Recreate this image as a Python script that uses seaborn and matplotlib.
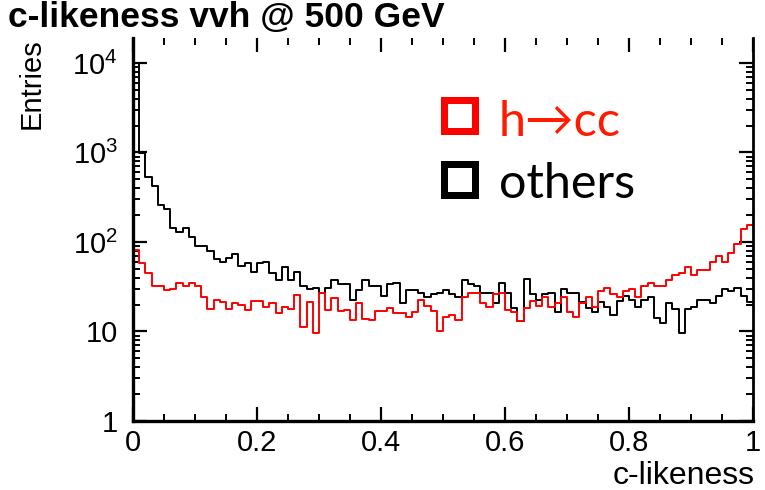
import numpy as np
import pandas as pd
import matplotlib
matplotlib.use("Agg")
import matplotlib.pyplot as plt
from matplotlib.patches import Rectangle
from matplotlib.ticker import MultipleLocator, LogLocator, NullFormatter, FixedLocator
import seaborn as sns

# ---------------- data (100 bins on 0..1) ----------------
n_bins = 100
x_min, x_max = 0.0, 1.0

others = [10000, 980, 537, 426, 259, 232, 142, 128, 142, 115,
          90, 90, 79, 65, 59, 67, 73, 54, 58, 46,
          58, 59, 45, 38, 53, 38, 46, 32, 30, 31,
          27, 31, 38, 34, 34, 22.5, 29, 38, 32, 32,
          25, 34, 35, 21, 29, 29, 27, 24, 26, 27,
          29, 26, 24, 38, 34, 32, 27, 27, 21, 34.5,
          27, 18.5, 13, 39, 26, 22.5, 26, 27, 16.6, 30,
          27, 27, 21.5, 18.5, 16.6, 21.5, 19, 15.3, 22, 25,
          22.5, 19, 22.5, 24, 14, 12.5, 20.6, 17.7, 9.5, 17.7,
          18.6, 22.5, 22.5, 21, 25, 29.6, 28.6, 30.4, 25, 21.5]

hcc = [82, 58, 45, 32, 32, 29, 30, 34.5, 32, 34.5,
       32, 24, 17.7, 22.5, 21.5, 17.7, 20.6, 19.8, 17.4, 22,
       22, 19, 21, 16, 18.6, 17.8, 25.6, 11.3, 21.5, 9.5,
       26.7, 17.4, 23.5, 16.9, 17.4, 13.4, 21, 13.7, 13.4, 17,
       17, 18.5, 16, 16, 14.6, 16.6, 22.5, 19.2, 17, 10.1,
       14.4, 15.3, 13.4, 24, 26.7, 26.7, 21, 19, 26, 26.7,
       17.4, 16.6, 13, 18.2, 22, 19.4, 24, 19, 21, 24,
       16.6, 14.6, 21, 24, 19, 28.6, 31, 26, 24, 28.6,
       29.6, 24, 32, 34.5, 32, 32, 38, 43, 45, 53,
       43, 49, 49, 60, 70, 60, 76, 94, 138, 155]

labels = ["h\u2192cc", "others"]
title = "c-likeness vvh @ 500 GeV"
xlabel = "c-likeness"
ylabel = "Entries"
x_ticks = [0, 0.2, 0.4, 0.6, 0.8, 1]
x_ticklabels = ["0", "0.2", "0.4", "0.6", "0.8", "1"]
y_ticks = [1, 10, 100, 1000, 10000]
y_ticklabels = ["1", "10", "$10^{2}$", "$10^{3}$", "$10^{4}$"]

edges = np.linspace(x_min, x_max, n_bins + 1)
centers = 0.5 * (edges[:-1] + edges[1:])
df = pd.DataFrame({"c": centers, "hcc": hcc, "others": others})

# ---------------- style ----------------
sns.set_theme(style="ticks")
plt.rcParams["font.family"] = ["Liberation Sans", "DejaVu Sans"]
plt.rcParams["mathtext.fontset"] = "custom"
plt.rcParams["mathtext.rm"] = "Liberation Sans"
plt.rcParams["mathtext.default"] = "regular"
for k in ["text.color", "axes.labelcolor", "xtick.color", "ytick.color",
          "xtick.labelcolor", "ytick.labelcolor", "axes.edgecolor"]:
    plt.rcParams[k] = "black"

W, H = 765, 490
fig = plt.figure(figsize=(W / 100, H / 100), dpi=100)
fig.patch.set_facecolor("white")
ax = fig.add_axes([133 / W, 1 - 421 / H, (753 - 133) / W, (421 - 38) / H])
ax.set_facecolor("white")

sns.histplot(data=df, x="c", weights="others", bins=n_bins, binrange=(x_min, x_max),
             element="step", fill=False, color="black", linewidth=1.4, ax=ax)
sns.histplot(data=df, x="c", weights="hcc", bins=n_bins, binrange=(x_min, x_max),
             element="step", fill=False, color="#ff0000", linewidth=1.4, ax=ax)

ax.set_yscale("log")
ax.set_xlim(x_min, x_max)
ax.set_ylim(1, 1.9e4)

ax.xaxis.set_major_locator(FixedLocator(x_ticks))
ax.set_xticklabels(x_ticklabels)
ax.xaxis.set_minor_locator(MultipleLocator(0.05))
ax.yaxis.set_major_locator(FixedLocator(y_ticks))
ax.set_yticklabels(y_ticklabels)
ax.yaxis.set_minor_locator(LogLocator(base=10, subs=np.arange(2, 10)))
ax.yaxis.set_minor_formatter(NullFormatter())

ax.tick_params(which="both", direction="in", top=True, right=True,
               labeltop=False, labelright=False, color="black", labelcolor="black")
ax.tick_params(which="major", length=10, width=1.6, labelsize=21)
ax.tick_params(which="minor", length=5, width=1.4)
ax.tick_params(axis="x", which="major", pad=6)
ax.tick_params(axis="y", which="major", pad=11)

for s in ["left", "bottom"]:
    ax.spines[s].set_linewidth(2.4)
    ax.spines[s].set_color("black")
ax.spines["right"].set_linewidth(2.0)
ax.spines["right"].set_color("black")
ax.spines["top"].set_visible(False)

ax.set_xlabel("")
ax.set_ylabel("")

# axis titles (ROOT style, at the ends of the axes)
fig.text(755 / W, 1 - 476 / H, xlabel, ha="right", va="center", fontsize=23, color="black")
fig.text(32 / W, 1 - 38 / H, ylabel, rotation=90, ha="center", va="top", fontsize=21,
         color="black")

# title
fig.text(8 / W, 1 - 27 / H, title, ha="left", va="baseline",
         fontsize=25.5, fontweight="bold", color="black")

# legend (hollow squares + text)
sq = 31
lw_px = 7
for (label, col, tcol, y_top, y_base) in [
        (labels[0], "#ff0000", "#ff1a00", 97, 136),
        (labels[1], "black", "black", 161, 198)]:
    rect = Rectangle(((440 + lw_px / 2) / W, 1 - (y_top + lw_px / 2 + sq) / H),
                     sq / W, sq / H, transform=fig.transFigure,
                     fill=False, edgecolor=col, linewidth=lw_px * 0.72)
    fig.patches.append(rect)
    fig.text(499 / W, 1 - y_base / H, label, ha="left", va="baseline",
             fontsize=35, color=tcol, family=["Lato", "DejaVu Sans"])

fig.savefig("out.png", dpi=100, facecolor="white")
